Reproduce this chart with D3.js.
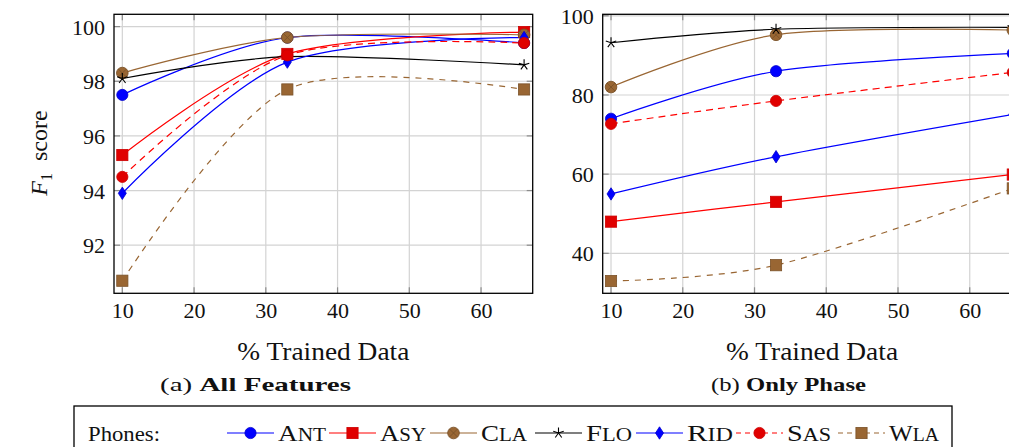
<!DOCTYPE html>
<html><head><meta charset="utf-8">
<script src="https://cdn.jsdelivr.net/npm/d3@7"></script>
<style>
html,body{margin:0;padding:0;background:#fff;}
svg{display:block;}
svg text{font-family:"Liberation Serif","Times New Roman","DejaVu Serif",serif;}
</style></head>
<body><svg id="chart" width="1009" height="447"></svg>
<script>
// ---------- data ----------
const xValues = [10, 33, 66];
const xTicks = [10, 20, 30, 40, 50, 60];
const yTicksAll = [92, 94, 96, 98, 100];
const yTicksPhase = [40, 60, 80, 100];
const seriesNames = ["Ant", "Asy", "Cla", "Flo", "Rid", "Sas", "Wla"];

// (a) All Features
const antAll = [97.5, 99.6, 99.4];
const asyAll = [95.3, 99.0, 99.8];
const claAll = [98.3, 99.6, 99.7];
const floAll = [98.1, 98.9, 98.6];
const ridAll = [93.9, 98.7, 99.6];
const sasAll = [94.5, 98.95, 99.4];
const wlaAll = [90.7, 97.7, 97.7];

// (b) Only Phase
const antPhase = [74.0, 86.0, 90.5];
const asyPhase = [48.0, 53.0, 59.9];
const claPhase = [82.0, 95.2, 96.4];
const floPhase = [93.2, 96.6, 97.1];
const ridPhase = [55.0, 64.4, 75.1];
const sasPhase = [72.7, 78.5, 85.7];
const wlaPhase = [33.0, 37.0, 56.4];

// ---------- styles ----------
const FONT = "Liberation Serif";
const BROWN = "#996633", BROWN_D = "#7a5229";
const styles = {
  Ant: {color: "#0000ff", mark: "circle", dash: null},
  Asy: {color: "#ff0000", mark: "square", dash: null},
  Cla: {color: BROWN, mark: "otimes", dash: null},
  Flo: {color: "#000000", mark: "star", dash: null},
  Rid: {color: "#0000ff", mark: "diamond", dash: null},
  Sas: {color: "#ff0000", mark: "circle", dash: "7,5"},
  Wla: {color: BROWN, mark: "square", dash: "6,6"}
};
const markFill = {"#0000ff": "#0000ff", "#ff0000": "#e00000"};
markFill[BROWN] = BROWN;
const markStroke = {"#0000ff": "#0000cc", "#ff0000": "#cc0000", "#000000": "#000"};
markStroke[BROWN] = BROWN_D;

const panels = [
  {x0: 114, x1: 532.7, y0: 14.3, y1: 293.3, ydom: [90.24, 100.45], yticks: yTicksAll,
   data: [antAll, asyAll, claAll, floAll, ridAll, sasAll, wlaAll]},
  {x0: 602.7, x1: 1021.4, y0: 14.3, y1: 293.3, ydom: [29.9, 100.38], yticks: yTicksPhase,
   data: [antPhase, asyPhase, claPhase, floPhase, ridPhase, sasPhase, wlaPhase]}
];

const svg = d3.select("#chart");
const defs = svg.append("defs");

function drawMark(g, type, color, cx, cy) {
  const f = markFill[color] || color, s = markStroke[color] || color;
  if (type === "circle") {
    g.append("circle").attr("cx", cx).attr("cy", cy).attr("r", 5.6).attr("fill", f).attr("stroke", s).attr("stroke-width", 0.8);
  } else if (type === "square") {
    g.append("rect").attr("x", cx - 5.6).attr("y", cy - 5.6).attr("width", 11.2).attr("height", 11.2)
      .attr("fill", f).attr("stroke", s).attr("stroke-width", 0.8);
  } else if (type === "otimes") {
    g.append("circle").attr("cx", cx).attr("cy", cy).attr("r", 5.8).attr("fill", f).attr("stroke", s).attr("stroke-width", 0.9);
    const d = 5.8 * 0.707;
    g.append("path").attr("d", `M${cx-d},${cy-d}L${cx+d},${cy+d}M${cx-d},${cy+d}L${cx+d},${cy-d}`)
      .attr("stroke", s).attr("stroke-width", 0.9).attr("fill", "none");
  } else if (type === "diamond") {
    g.append("path").attr("d", `M${cx},${cy-6.2}L${cx+4},${cy}L${cx},${cy+6.2}L${cx-4},${cy}Z`)
      .attr("fill", f).attr("stroke", s).attr("stroke-width", 0.8);
  } else if (type === "star") {
    let p = "";
    for (let k = 0; k < 5; k++) {
      const a = -Math.PI / 2 + k * 2 * Math.PI / 5;
      p += `M${cx},${cy}L${cx + 5.5 * Math.cos(a)},${cy + 5.5 * Math.sin(a)}`;
    }
    g.append("path").attr("d", p).attr("stroke", "#000").attr("stroke-width", 1.1).attr("fill", "none");
  }
}

panels.forEach((P, pi) => {
  const x = d3.scaleLinear().domain([8.84, 67.2]).range([P.x0, P.x1]);
  const y = d3.scaleLinear().domain(P.ydom).range([P.y1, P.y0]);
  const g = svg.append("g");
  const clipId = "clip" + pi;
  defs.append("clipPath").attr("id", clipId).append("rect")
    .attr("x", P.x0).attr("y", P.y0).attr("width", P.x1 - P.x0).attr("height", P.y1 - P.y0);

  // grid
  const grid = g.append("g").attr("stroke", "#d3d3d3").attr("stroke-width", 1.2);
  xTicks.forEach(t => grid.append("line").attr("x1", x(t)).attr("x2", x(t)).attr("y1", P.y0).attr("y2", P.y1));
  P.yticks.forEach(t => grid.append("line").attr("x1", P.x0).attr("x2", P.x1).attr("y1", y(t)).attr("y2", y(t)));

  // tick marks (inside, all four sides)
  const tk = g.append("g").attr("stroke", "#8c8c8c").attr("stroke-width", 1.2);
  xTicks.forEach(t => {
    tk.append("line").attr("x1", x(t)).attr("x2", x(t)).attr("y1", P.y1).attr("y2", P.y1 - 6);
    tk.append("line").attr("x1", x(t)).attr("x2", x(t)).attr("y1", P.y0).attr("y2", P.y0 + 6);
  });
  P.yticks.forEach(t => {
    tk.append("line").attr("x1", P.x0).attr("x2", P.x0 + 6).attr("y1", y(t)).attr("y2", y(t));
    tk.append("line").attr("x1", P.x1).attr("x2", P.x1 - 6).attr("y1", y(t)).attr("y2", y(t));
  });

  // axes labels via d3 axes (lines hidden)
  const xAxis = g.append("g").attr("transform", `translate(0,${P.y1})`)
    .call(d3.axisBottom(x).tickValues(xTicks).tickSize(0).tickPadding(0).tickFormat(d3.format("d")));
  xAxis.attr("font-family", FONT);
  xAxis.select(".domain").remove();
  xAxis.selectAll("text").attr("font-family", FONT).attr("font-size", 22)
    .attr("fill", "#111").attr("dy", null).attr("y", 25);
  const yAxis = g.append("g").attr("transform", `translate(${P.x0},0)`)
    .call(d3.axisLeft(y).tickValues(P.yticks).tickSize(0).tickPadding(9).tickFormat(d3.format("d")));
  yAxis.attr("font-family", FONT);
  yAxis.select(".domain").remove();
  yAxis.selectAll("text").attr("font-family", FONT).attr("font-size", 22)
    .attr("fill", "#111").attr("dy", "0.34em");

  // lines
  const line = d3.line().x((d, i) => x(xValues[i])).y(d => y(d)).curve(d3.curveCardinal.tension(0.1));
  const lg = g.append("g").attr("clip-path", `url(#${clipId})`);
  seriesNames.forEach((name, si) => {
    const st = styles[name];
    lg.append("path").datum(P.data[si]).attr("d", line).attr("fill", "none")
      .attr("stroke", st.color).attr("stroke-width", 1.2)
      .attr("stroke-dasharray", st.dash);
  });
  // marks
  const mg = g.append("g");
  seriesNames.forEach((name, si) => {
    const st = styles[name];
    P.data[si].forEach((v, i) => drawMark(mg, st.mark, st.color, x(xValues[i]), y(v)));
  });

  // frame
  g.append("rect").attr("x", P.x0).attr("y", P.y0).attr("width", P.x1 - P.x0).attr("height", P.y1 - P.y0)
    .attr("fill", "none").attr("stroke", "#000").attr("stroke-width", 1.3);

  // x label
  const cx = (P.x0 + P.x1) / 2;
  svg.append("text").attr("x", cx).attr("y", 360).attr("text-anchor", "middle").attr("font-family", FONT)
    .attr("font-size", 25).attr("fill", "#111").attr("textLength", 172).attr("lengthAdjust", "spacingAndGlyphs")
    .text("% Trained Data");
});

// y label F1 score
const yl = svg.append("text").attr("transform", "translate(47,153) rotate(-90)").attr("font-family", FONT)
  .attr("text-anchor", "middle").attr("font-size", 24).attr("fill", "#111");
yl.append("tspan").attr("font-style", "italic").text("F");
yl.append("tspan").attr("font-size", 16).attr("dy", 5).text("1");
yl.append("tspan").attr("dy", -5).text("\u00a0 score");

// captions
function caption(cx, label, bold, w) {
  const t = svg.append("text").attr("x", cx).attr("y", 391).attr("text-anchor", "middle").attr("font-family", FONT)
    .attr("font-size", 19).attr("fill", "#111").attr("textLength", w).attr("lengthAdjust", "spacingAndGlyphs");
  t.append("tspan").text(label + " ");
  t.append("tspan").attr("font-weight", "bold").text(bold);
}
caption(255.5, "(a)", "All Features", 191);
caption(788.5, "(b)", "Only Phase", 155);

// legend
const leg = svg.append("g");
leg.append("rect").attr("x", 74).attr("y", 406).attr("width", 878).attr("height", 60)
  .attr("fill", "#fff").attr("stroke", "#000").attr("stroke-width", 1.3);
leg.append("text").attr("x", 88).attr("y", 441).attr("font-family", FONT).attr("font-size", 22)
  .attr("fill", "#111").attr("textLength", 72).attr("lengthAdjust", "spacingAndGlyphs").text("Phones:");
const legendX = [227, 329, 430, 535, 636, 736, 838];
const legendTextW = [48, 46, 46, 46, 46, 44, 50];
seriesNames.forEach((name, i) => {
  const st = styles[name];
  const lx = legendX[i], ly = 433;
  leg.append("line").attr("x1", lx).attr("x2", lx + 47).attr("y1", ly).attr("y2", ly)
    .attr("stroke", st.color).attr("stroke-width", 1.2).attr("stroke-dasharray", st.dash ? "5,4" : null);
  drawMark(leg, st.mark, st.color, lx + 23.5, ly);
  const t = leg.append("text").attr("x", lx + 51).attr("y", 441).attr("font-family", FONT).attr("font-size", 23)
    .attr("fill", "#111").attr("textLength", legendTextW[i]).attr("lengthAdjust", "spacingAndGlyphs");
  t.append("tspan").text(name[0]);
  t.append("tspan").attr("font-size", 18).text(name.slice(1).toUpperCase());
});
</script></body></html>
